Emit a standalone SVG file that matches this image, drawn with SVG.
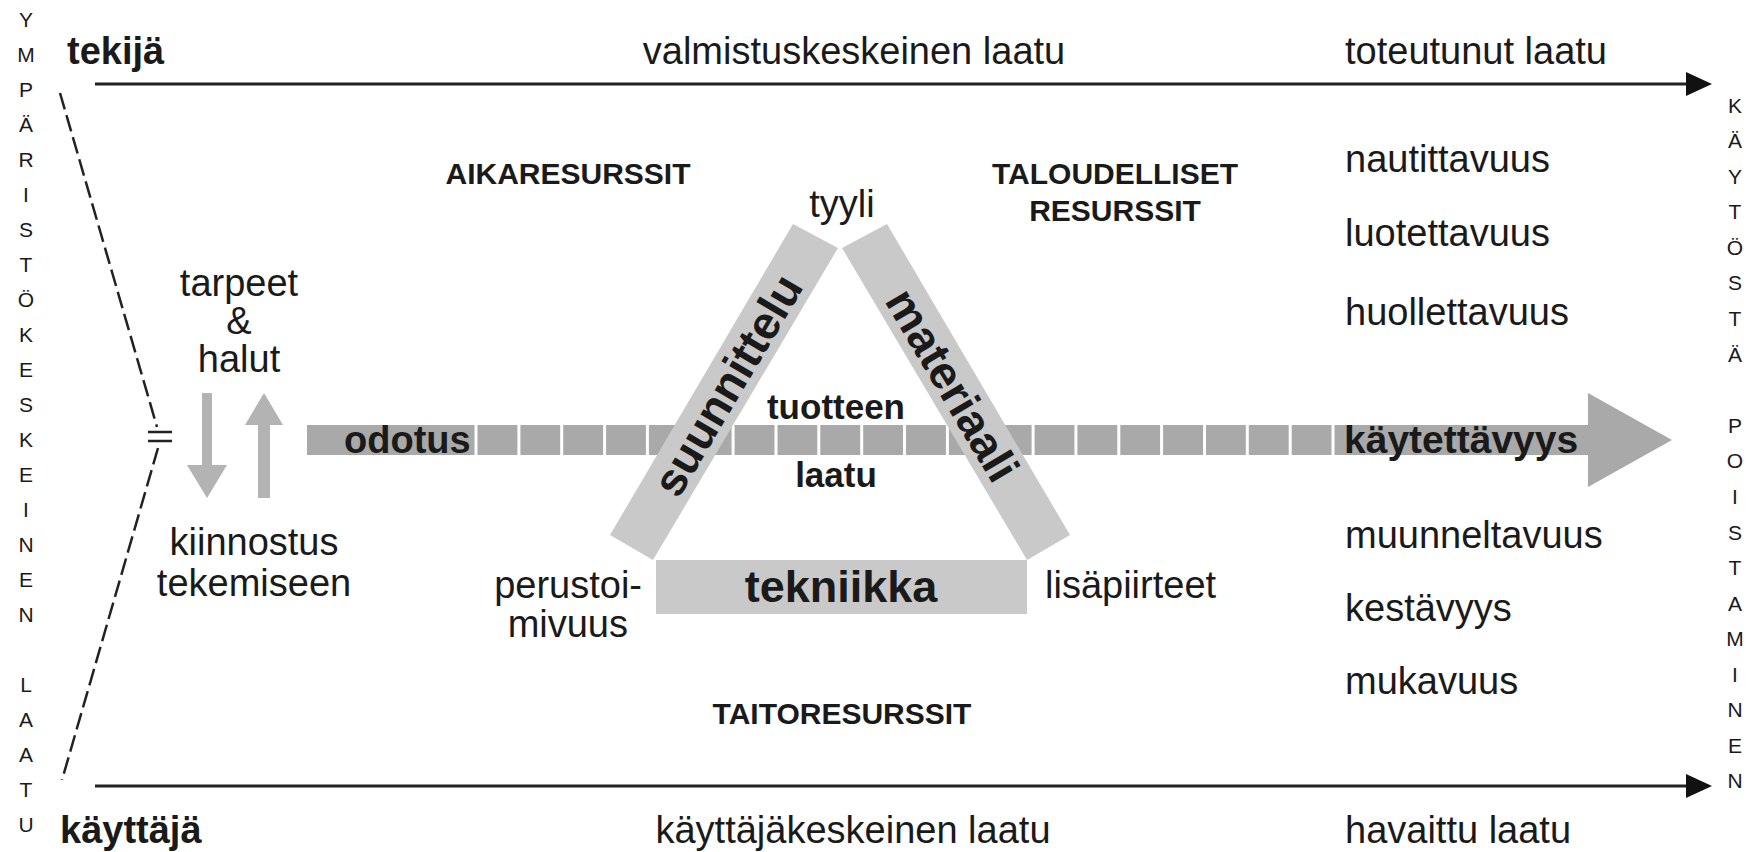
<svg xmlns="http://www.w3.org/2000/svg" width="1751" height="852" viewBox="0 0 1751 852">
<style>
text{font-family:"Liberation Sans",Arial,sans-serif;fill:#1a1a1a}
.r{font-size:38px}
.b{font-weight:bold}
.res{font-size:30px;font-weight:bold}
.vl{font-size:21px;text-anchor:middle}
.m{text-anchor:middle}
.band{fill:#c9c9c9}
.bar{fill:#a9a9a9}
.small{fill:#b3b3b3}
.ln{stroke:#222;stroke-width:3;fill:none}
.dash{stroke:#222;stroke-width:2.5;fill:none;stroke-dasharray:17 6}
</style>
<rect width="1751" height="852" fill="#fff"/>

<g id="connectors">
<path class="ln" d="M95,84 H1688"/>
<polygon points="1686,72 1712,84 1686,96" fill="#111"/>
<path class="ln" d="M95,786 H1688"/>
<polygon points="1686,774 1712,786 1686,798" fill="#111"/>
<path class="dash" d="M60,93 L157,427"/>
<path class="dash" d="M158,448 L62,780"/>
<path class="ln" style="stroke-width:2.5" d="M148,432 H172 M148,441 H172"/>
</g>

<g id="left-letters">
<text class="vl" x="26" y="27">Y</text>
<text class="vl" x="26" y="62">M</text>
<text class="vl" x="26" y="97">P</text>
<text class="vl" x="26" y="132">Ä</text>
<text class="vl" x="26" y="167">R</text>
<text class="vl" x="26" y="202">I</text>
<text class="vl" x="26" y="237">S</text>
<text class="vl" x="26" y="272">T</text>
<text class="vl" x="26" y="307">Ö</text>
<text class="vl" x="26" y="342">K</text>
<text class="vl" x="26" y="377">E</text>
<text class="vl" x="26" y="412">S</text>
<text class="vl" x="26" y="447">K</text>
<text class="vl" x="26" y="482">E</text>
<text class="vl" x="26" y="517">I</text>
<text class="vl" x="26" y="552">N</text>
<text class="vl" x="26" y="587">E</text>
<text class="vl" x="26" y="622">N</text>
<text class="vl" x="26" y="692">L</text>
<text class="vl" x="26" y="727">A</text>
<text class="vl" x="26" y="762">A</text>
<text class="vl" x="26" y="797">T</text>
<text class="vl" x="26" y="832">U</text>
</g>

<g id="right-letters">
<text class="vl" x="1735" y="113">K</text>
<text class="vl" x="1735" y="148">Ä</text>
<text class="vl" x="1735" y="184">Y</text>
<text class="vl" x="1735" y="219">T</text>
<text class="vl" x="1735" y="255">Ö</text>
<text class="vl" x="1735" y="290">S</text>
<text class="vl" x="1735" y="326">T</text>
<text class="vl" x="1735" y="362">Ä</text>
<text class="vl" x="1735" y="433">P</text>
<text class="vl" x="1735" y="468">O</text>
<text class="vl" x="1735" y="504">I</text>
<text class="vl" x="1735" y="540">S</text>
<text class="vl" x="1735" y="575">T</text>
<text class="vl" x="1735" y="611">A</text>
<text class="vl" x="1735" y="646">M</text>
<text class="vl" x="1735" y="682">I</text>
<text class="vl" x="1735" y="717">N</text>
<text class="vl" x="1735" y="753">E</text>
<text class="vl" x="1735" y="788">N</text>
</g>

<g id="top-row">
<text class="r b" x="67" y="64">tekijä</text>
<text class="r m" x="854" y="64" font-size="39">valmistuskeskeinen laatu</text>
<text class="r" x="1345" y="64">toteutunut laatu</text>
</g>

<g id="bottom-row">
<text class="r b" x="60" y="843">käyttäjä</text>
<text class="r m" x="853" y="843" font-size="39">käyttäjäkeskeinen laatu</text>
<text class="r" x="1345" y="843">havaittu laatu</text>
</g>

<g id="resources">
<text class="res m" x="568" y="184">AIKARESURSSIT</text>
<text class="res m" x="1115" y="184">TALOUDELLISET</text>
<text class="res m" x="1115" y="221">RESURSSIT</text>
<text class="res m" x="842" y="724">TAITORESURSSIT</text>
</g>

<g id="needs">
<text class="r m" x="239" y="296">tarpeet</text>
<text class="r m" x="239" y="334">&amp;</text>
<text class="r m" x="239" y="372">halut</text>
<path class="small" d="M202,393 H212 V465 H227 L207,498 L187,465 H202 Z"/>
<path class="small" d="M264,393 L283,425 H270 V498 H258 V425 H245 Z"/>
<text class="r m" x="254" y="555">kiinnostus</text>
<text class="r m" x="254" y="596">tekemiseen</text>
</g>

<g id="expectation-arrow">
<rect class="bar" x="307" y="425" width="1282" height="30"/>
<polygon class="bar" points="1588,393 1672,440 1588,487"/>
<path stroke="#fff" stroke-width="3" d="M476,425V455M518.9,425V455M561.7,425V455M604.6,425V455M647.4,425V455M690.3,425V455M733.1,425V455M776,425V455M818.8,425V455M861.7,425V455M904.5,425V455M947.4,425V455M990.2,425V455M1033.1,425V455M1075.9,425V455M1118.8,425V455M1161.6,425V455M1204.5,425V455M1247.3,425V455M1290.2,425V455M1333,425V455"/>
<text class="b" x="344" y="453" font-size="38">odotus</text>
<text class="b" x="1344" y="453" font-size="39">käytettävyys</text>
</g>

<g id="triangle">
<polygon class="band" points="793,224 838,248 653,560 610,535"/>
<polygon class="band" points="887,224 842,248 1027,560 1070,535"/>
<rect class="band" x="656" y="560" width="371" height="54"/>
<text class="b m" x="727.5" y="385" font-size="46" dominant-baseline="central" transform="rotate(-59.4 727.5 385)">suunnittelu</text>
<text class="b m" x="952.5" y="385" font-size="46" dominant-baseline="central" transform="rotate(59.4 952.5 385)">materiaali</text>
<text class="b m" x="841" y="602" font-size="45">tekniikka</text>
<text class="r m" x="842" y="217">tyyli</text>
<text class="b m" x="836" y="419" font-size="35">tuotteen</text>
<text class="b m" x="836" y="487" font-size="35">laatu</text>
<text class="r" x="642" y="598" text-anchor="end" font-size="45">perustoi-</text>
<text class="r" x="628" y="637" text-anchor="end" font-size="45">mivuus</text>
<text class="r" x="1045" y="598" font-size="45">lisäpiirteet</text>
</g>

<g id="qualities">
<text class="r" x="1345" y="172">nautittavuus</text>
<text class="r" x="1345" y="246">luotettavuus</text>
<text class="r" x="1345" y="325">huollettavuus</text>
<text class="r" x="1345" y="548">muunneltavuus</text>
<text class="r" x="1345" y="621">kestävyys</text>
<text class="r" x="1345" y="694">mukavuus</text>
</g>
</svg>
